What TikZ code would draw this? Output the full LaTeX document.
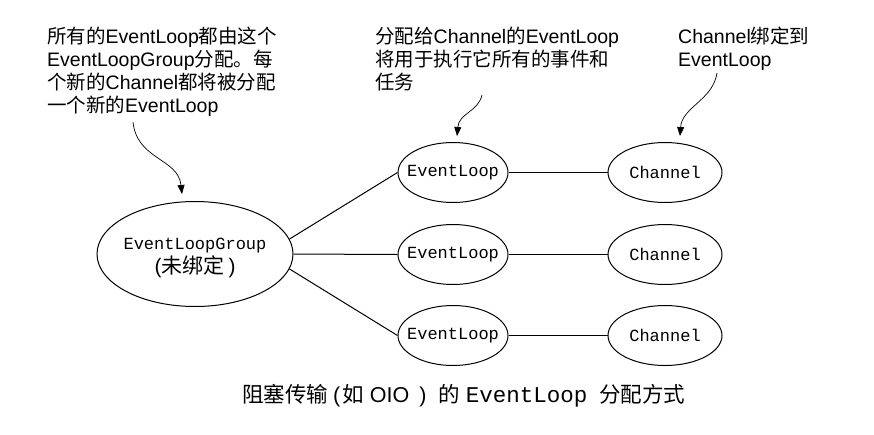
\documentclass[tikz,border=0pt]{standalone}
\usepackage{fontspec}
\setmainfont{Liberation Sans}
\setmonofont{Liberation Mono}
\newfontfamily\cjk{Noto Sans CJK SC}
\newcommand{\zh}[1]{{\cjk #1}}
\usetikzlibrary{shapes.geometric,arrows.meta,calc}

\begin{document}
\begin{tikzpicture}[x=1pt,y=-1pt,
  oval/.style={draw,ellipse,line width=1pt,inner xsep=-8pt,inner ysep=0pt,minimum width=#1,minimum height=60pt,font=\ttfamily\fontsize{17}{22}\selectfont},
  note/.style={anchor=base west,align=left,inner sep=0pt,font=\fontsize{19.5}{23}\selectfont},
  pointer/.style={line width=.7pt,-{Triangle[length=9pt,width=7pt]}}]
\useasboundingbox (0,0) rectangle (874,434);

% notes on top (anchored at the baseline of their last line)
\node[note] (n1) at (47,112) {\zh{所有的}EventLoop\zh{都由这个}\\EventLoopGroup\zh{分配。每}\\\zh{个新的}Channel\zh{都将被分配}\\\zh{一个新的}EventLoop};
\node[note] (n2) at (375,89) {\zh{分配给}Channel\zh{的}EventLoop\\\zh{将用于执行它所有的事件和}\\\zh{任务}};
\node[note] (n3) at (678,66) {Channel\zh{绑定到}\\EventLoop};

% the group and its loops
\node[oval=196pt,minimum height=105pt,align=center] (group) at (195,254) {\rule{0pt}{20pt}EventLoopGroup\\[2pt]{\normalfont\fontsize{21}{22}\selectfont(\zh{未绑定}\hspace{4pt})}};

\foreach \i/\y in {1/172.5,2/254.5,3/335.5}{
  \node[oval=110pt] (el\i) at (453,\y) {EventLoop};
  \node[oval=114pt] (ch\i) at (665,\y) {Channel};
  \draw[line width=1pt] (el\i) -- (ch\i);
}
\draw[line width=1pt] (group.9) -- (el1.west) (group.east) -- (el2.west) (group.-9) -- (el3.west);

% pointers
\coordinate (a1) at (133,122);
\coordinate (a2) at (482,95);
\coordinate (a3) at (717,73);
\draw[pointer] (a1) .. controls +(4,38) and +(-4,-36) .. ($(group.north)+(-13,-7)$);
\draw[pointer] (a2) .. controls +(-4,17) and +(2,-23) .. ($(el1.north)+(4,-6)$);
\draw[pointer] (a3) .. controls +(-4,27) and +(2,-29) .. ($(ch1.north)+(15,-6)$);

\node[anchor=base west,inner sep=0pt,font=\fontsize{21.5}{24}\selectfont] (cap) at (242,402) {\zh{阻塞传输}\hspace{5pt}(\hspace{2pt}\zh{如}\hspace{6pt}OIO\hspace{10pt})\hspace{12pt}\zh{的}\hspace{6pt}{\ttfamily\fontsize{22.5}{24}\selectfont EventLoop}\hspace{12pt}\zh{分配方式}};
\end{tikzpicture}
\end{document}
